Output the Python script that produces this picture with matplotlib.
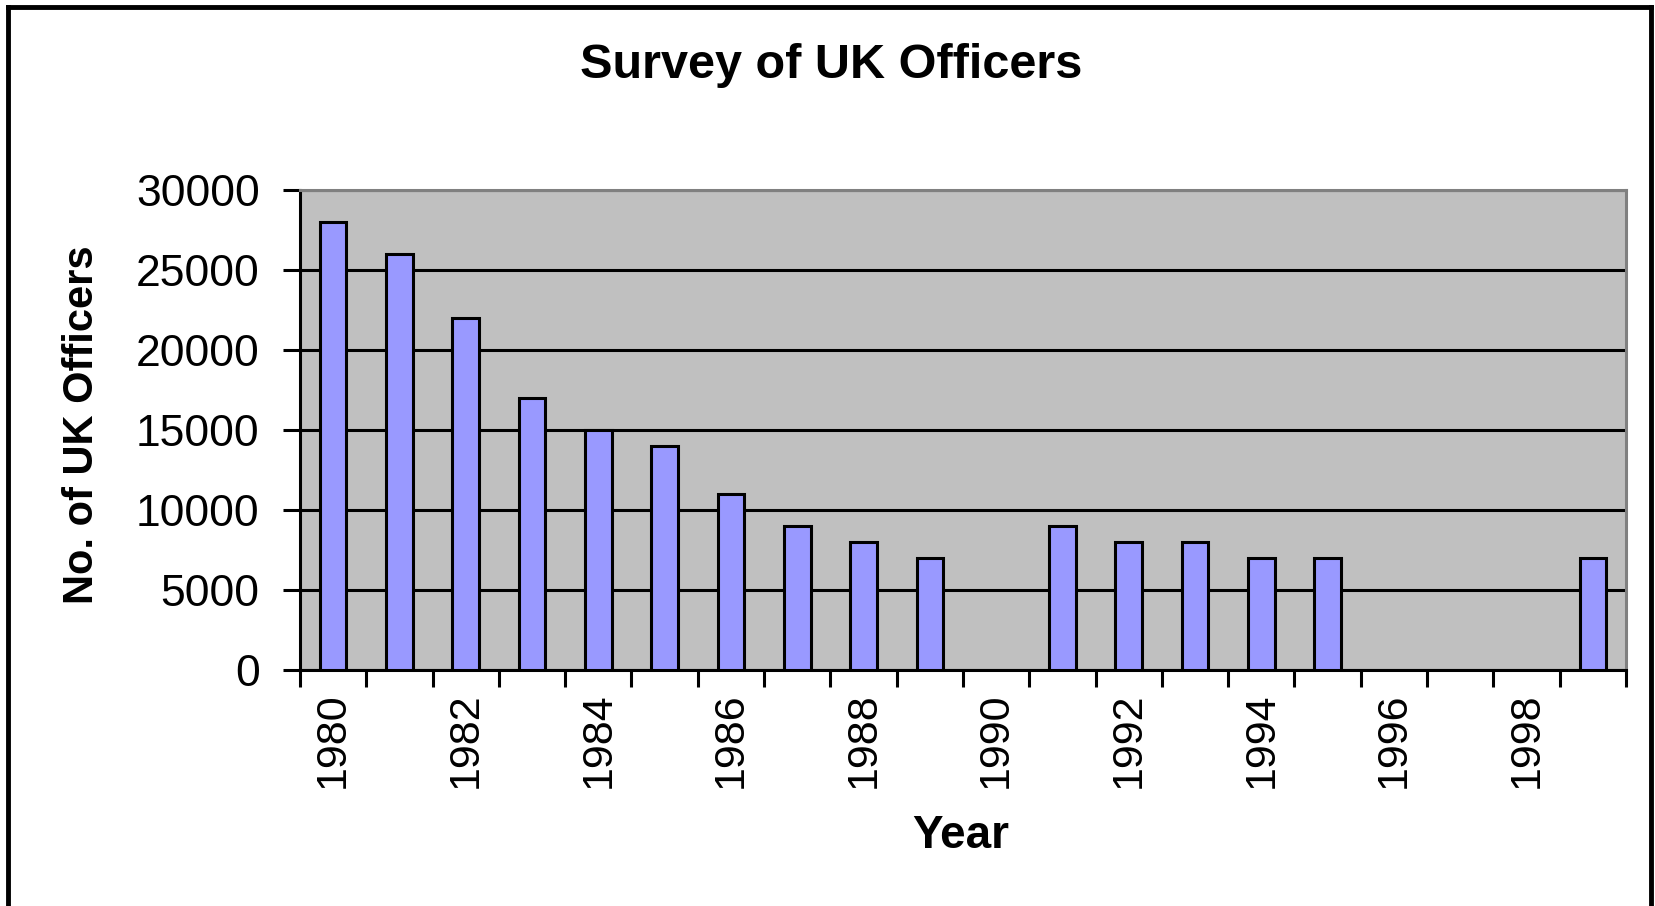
import matplotlib.pyplot as plt
from matplotlib.lines import Line2D
import numpy as np

plt.rcParams['font.family'] = ['Liberation Sans', 'DejaVu Sans']

years = list(range(1980, 2000))
officers = [28000, 26000, 22000, 17000, 15000, 14000, 11000, 9000, 8000, 7000,
            0, 9000, 8000, 8000, 7000, 7000, 0, 0, 0, 7000]
y_ticks = [0, 5000, 10000, 15000, 20000, 25000, 30000]

W, H = 1656, 906
fig = plt.figure(figsize=(W / 100, H / 100), dpi=100)
ax = fig.add_axes([300 / W, 1 - 670 / H, (1626 - 300) / W, (670 - 190) / H])
ax.set_facecolor('#C0C0C0')

x = np.arange(len(years))
ax.set_axisbelow(True)
ax.yaxis.grid(True, color='black', linewidth=2.2)
heights = [v if v > 0 else np.nan for v in officers]
ax.bar(x, heights, width=0.4, color='#9999FF', edgecolor='black', linewidth=2.2, zorder=3)

ax.set_xlim(-0.5, len(years) - 0.5)
ax.set_ylim(0, 30000)
ax.set_yticks(y_ticks)
ax.set_yticklabels([str(v) for v in y_ticks], fontsize=32)

# ticks on every category boundary, labels every other year
ax.set_xticks(np.arange(-0.5, len(years), 1.0))
ax.set_xticklabels([])
ax.set_xticks(x[::2], minor=True)
ax.set_xticklabels([str(y) for y in years[::2]], minor=True, rotation=90, fontsize=31)
ax.tick_params(axis='x', which='major', direction='out', length=12, width=2.2)
ax.tick_params(axis='x', which='minor', length=0, pad=16)
ax.tick_params(axis='y', direction='out', length=12, width=2.2, pad=17)

for side in ['left', 'bottom']:
    ax.spines[side].set_color('black')
    ax.spines[side].set_linewidth(2.2)
for side in ['top', 'right']:
    ax.spines[side].set_color('#808080')
    ax.spines[side].set_linewidth(2.2)

fig.text(831 / W, 1 - 65 / H, 'Survey of UK Officers', ha='center', va='center',
         fontsize=35, fontweight='bold')
fig.text(82 / W, 1 - 425 / H, 'No. of UK Officers', ha='center', va='center',
         rotation=90, fontsize=30, fontweight='bold')
fig.text(961 / W, 1 - 836 / H, 'Year', ha='center', va='center',
         fontsize=33, fontweight='bold')

# outer chart border (no bottom edge visible)
lw = 3.5
fig.add_artist(Line2D([8 / W, 8 / W], [0, 1 - 7 / H], color='black', linewidth=lw))
fig.add_artist(Line2D([8 / W, 1651 / W], [1 - 7 / H, 1 - 7 / H], color='black', linewidth=lw))
fig.add_artist(Line2D([1651 / W, 1651 / W], [0, 1 - 7 / H], color='black', linewidth=lw))

fig.savefig('out.png', dpi=100)
